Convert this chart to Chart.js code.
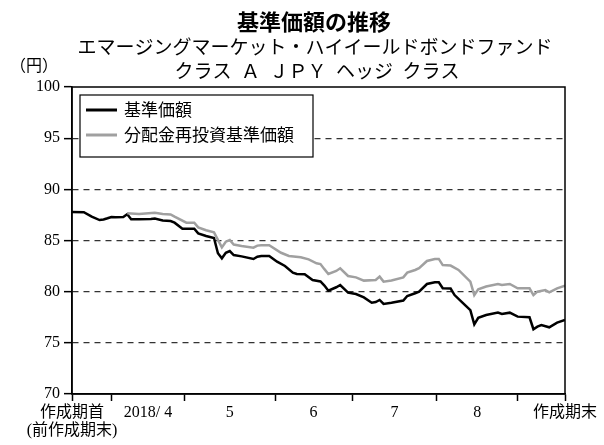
<!DOCTYPE html>
<html>
<head>
<meta charset="utf-8">
<script src="https://cdn.jsdelivr.net/npm/chart.js@4/dist/chart.umd.min.js"></script>
<style>
  body { margin: 0; background: #fff; }
  #wrap { width: 604px; height: 445px; }
</style>
</head>
<body>
<div id="wrap"><canvas id="chart" width="604" height="445"></canvas></div>
<script>
// 営業日インデックス（作成期首 = 0、作成期末 = 125）
const navDays = [0, 3, 5, 7, 8, 9, 10, 11, 13, 14, 15, 17, 20, 21, 23, 25, 26, 28, 31, 32, 34, 36, 37, 38, 39, 40, 41, 43, 46, 47, 48, 50, 52, 54, 56, 57, 59, 61, 63, 64, 65, 67, 68, 70, 72, 74, 76, 77, 78, 79, 81, 84, 85, 87, 88, 90, 92, 93, 94, 96, 97, 99, 101, 102, 103, 105, 108, 109, 111, 113, 116, 117, 118, 119, 121, 123, 125];
const navValues = [87.78, 87.76, 87.33, 87.0, 87.05, 87.17, 87.3, 87.27, 87.3, 87.56, 87.07, 87.07, 87.1, 87.14, 86.95, 86.9, 86.74, 86.15, 86.15, 85.7, 85.44, 85.25, 83.75, 83.26, 83.8, 83.97, 83.58, 83.45, 83.19, 83.42, 83.49, 83.49, 82.93, 82.51, 81.86, 81.73, 81.7, 81.14, 81.0, 80.6, 80.1, 80.43, 80.65, 79.9, 79.77, 79.44, 78.92, 78.99, 79.19, 78.8, 78.92, 79.13, 79.58, 79.84, 80.0, 80.75, 80.91, 80.91, 80.33, 80.3, 79.67, 78.92, 78.2, 76.8, 77.45, 77.72, 77.95, 77.82, 77.95, 77.56, 77.5, 76.33, 76.58, 76.74, 76.52, 76.97, 77.23];

const reinvestDays = [14, 17, 21, 23, 25, 26, 29, 31, 32, 34, 36, 38, 39, 40, 41, 43, 46, 47, 48, 50, 53, 55, 58, 60, 62, 63, 64, 65, 67, 68, 70, 72, 74, 77, 78, 79, 81, 84, 85, 87, 88, 90, 92, 93, 94, 96, 98, 101, 102, 103, 105, 108, 109, 111, 113, 116, 117, 118, 120, 121, 123, 125];
const reinvestValues = [87.66, 87.6, 87.72, 87.6, 87.55, 87.33, 86.74, 86.74, 86.28, 86.0, 85.8, 84.33, 84.88, 85.05, 84.6, 84.46, 84.3, 84.5, 84.53, 84.53, 83.8, 83.49, 83.36, 83.16, 82.77, 82.7, 82.2, 81.73, 82.02, 82.28, 81.53, 81.4, 81.08, 81.14, 81.47, 80.98, 81.1, 81.4, 81.86, 82.12, 82.3, 83.0, 83.2, 83.2, 82.6, 82.55, 82.12, 80.98, 79.67, 80.23, 80.5, 80.75, 80.65, 80.75, 80.33, 80.33, 79.67, 80.0, 80.16, 79.93, 80.33, 80.59];

// 月の区切り（目盛り位置）と月ラベル
const monthBounds = [0, 10, 28.5, 51.5, 71, 92.5, 113, 125];
const monthLabels = ['2018/ 4', '5', '6', '7', '8'];
const startLabel = ['作成期首', '(前作成期末)'];
const endLabel = '作成期末';

const yTicks = [70, 75, 80, 85, 90, 95, 100];
const titleLines = ['基準価額の推移', 'エマージングマーケット・ハイイールドボンドファンド', 'クラス\u2002Ａ\u2002ＪＰＹ\u2002ヘッジ\u2002クラス'];
const seriesNames = ['基準価額', '分配金再投資基準価額'];

const serif = "'Liberation Serif', 'Noto Sans CJK JP', serif";
const gothic = "'Noto Sans CJK JP', sans-serif";

// ラベル中心位置（月の中央）
const monthCenters = monthLabels.map((_, i) => (monthBounds[i + 1] + monthBounds[i + 2]) / 2);
const xTickValues = [...monthBounds, ...monthCenters].sort((a, b) => a - b);

function xLabel(value) {
  if (value === monthBounds[0]) return startLabel;
  if (value === monthBounds[monthBounds.length - 1]) return endLabel;
  const i = monthCenters.indexOf(value);
  return i >= 0 ? monthLabels[i] : '';
}

const decorations = {
  id: 'decorations',
  afterDraw(chart) {
    const { ctx, chartArea: a } = chart;
    ctx.save();
    // 枠
    ctx.strokeStyle = '#000';
    ctx.lineWidth = 1.5;
    ctx.strokeRect(a.left, a.top, a.right - a.left, a.bottom - a.top);

    // タイトル
    ctx.fillStyle = '#000';
    ctx.textAlign = 'center';
    ctx.textBaseline = 'middle';
    ctx.font = 'bold 22px ' + gothic;
    ctx.fillText(titleLines[0], 314, 22);
    ctx.font = '19px ' + gothic;
    ctx.fillText(titleLines[1], 315, 47);
    ctx.fillText(titleLines[2], 317, 71);

    // 単位
    ctx.font = '16px ' + serif;
    ctx.textAlign = 'left';
    ctx.fillText('（円）', 10, 67);

    // 凡例
    const lx = 80, ly = 95, lw = 233, lh = 62;
    ctx.fillStyle = '#fff';
    ctx.fillRect(lx, ly, lw, lh);
    ctx.strokeStyle = '#000';
    ctx.lineWidth = 1.2;
    ctx.strokeRect(lx, ly, lw, lh);
    const colors = ['#000', '#a0a0a0'];
    ctx.font = '17px ' + gothic;
    seriesNames.forEach((name, i) => {
      const y = ly + 15 + i * 25;
      ctx.strokeStyle = colors[i];
      ctx.lineWidth = 3;
      ctx.beginPath();
      ctx.moveTo(lx + 6, y);
      ctx.lineTo(lx + 37, y);
      ctx.stroke();
      ctx.fillStyle = '#000';
      ctx.fillText(name, lx + 44, y);
    });
    ctx.restore();
  }
};

new Chart(document.getElementById('chart'), {
  type: 'line',
  data: {
    datasets: [
      {
        label: seriesNames[1],
        data: reinvestDays.map((d, i) => ({ x: d, y: reinvestValues[i] })),
        borderColor: '#a0a0a0',
        borderWidth: 2.5,
        pointRadius: 0,
        tension: 0
      },
      {
        label: seriesNames[0],
        data: navDays.map((d, i) => ({ x: d, y: navValues[i] })),
        borderColor: '#000',
        borderWidth: 2.5,
        pointRadius: 0,
        tension: 0
      }
    ]
  },
  options: {
    responsive: false,
    animation: false,
    layout: { padding: { top: 87, right: 39, left: 0, bottom: 0 } },
    plugins: {
      legend: { display: false },
      title: { display: false },
      tooltip: { enabled: false }
    },
    scales: {
      x: {
        type: 'linear',
        min: monthBounds[0],
        max: monthBounds[monthBounds.length - 1],
        afterBuildTicks: scale => { scale.ticks = xTickValues.map(v => ({ value: v })); },
        afterFit: scale => { scale.height = 51; },
        grid: {
          drawOnChartArea: false,
          drawTicks: true,
          tickLength: 7,
          tickWidth: 1.5,
          tickColor: c => monthBounds.includes(c.tick.value) ? '#000' : 'rgba(0,0,0,0)'
        },
        border: { color: '#000', width: 1.5 },
        ticks: {
          autoSkip: false,
          maxRotation: 0,
          padding: 3,
          color: '#000',
          font: { family: serif, size: 16, lineHeight: 1.1 },
          callback: value => xLabel(value)
        }
      },
      y: {
        min: 70,
        max: 100,
        afterBuildTicks: scale => { scale.ticks = yTicks.map(v => ({ value: v })); },
        afterFit: scale => { scale.width = 72; },
        grid: {
          color: c => (c.tick.value === 70 || c.tick.value === 100) ? 'rgba(0,0,0,0)' : '#333',
          lineWidth: 1.3,
          tickLength: 8,
          tickWidth: 1.5,
          tickColor: '#000'
        },
        border: { color: '#000', width: 1.5, dash: [6, 5] },
        ticks: {
          padding: 4,
          color: '#000',
          font: { family: serif, size: 16 }
        }
      }
    }
  },
  plugins: [decorations]
});
</script>
</body>
</html>
